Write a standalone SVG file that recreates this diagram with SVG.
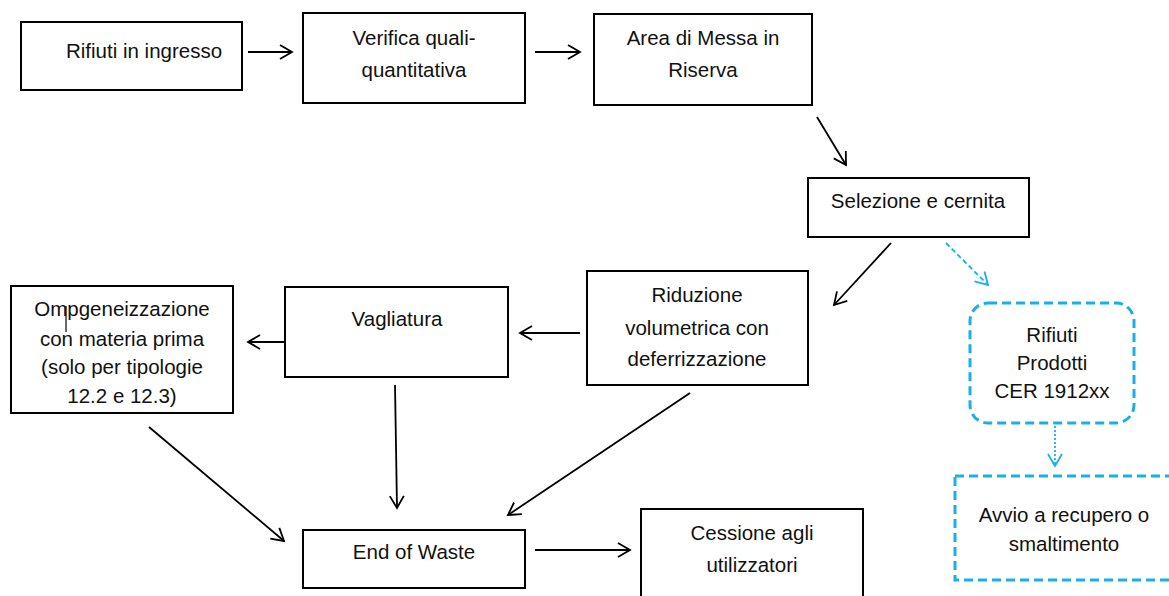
<svg xmlns="http://www.w3.org/2000/svg" width="1169" height="596" viewBox="0 0 1169 596">
<style>
.box{fill:#fff;stroke:#000;stroke-width:2}
.bbox{fill:#fff;stroke:#1AAFE6;stroke-width:3;stroke-dasharray:9,5}
.t{font-family:"Liberation Sans",Arial,sans-serif;font-size:20.5px;fill:#111;text-anchor:middle}
.c{fill:none;stroke:#000;stroke-width:1.8}
.cb{fill:none;stroke:#1AAFE6;stroke-width:1.8}
</style>
<defs>
<marker id="ah" markerUnits="userSpaceOnUse" markerWidth="16" markerHeight="18" refX="13" refY="8" orient="auto" viewBox="0 0 16 16">
<path d="M1,1 L13,8 L1,15" fill="none" stroke="#000" stroke-width="1.8"/>
</marker>
<marker id="ahb" markerUnits="userSpaceOnUse" markerWidth="16" markerHeight="18" refX="13" refY="8" orient="auto" viewBox="0 0 16 16">
<path d="M1,1 L13,8 L1,15" fill="none" stroke="#1AAFE6" stroke-width="1.8"/>
</marker>
</defs>
<rect width="1169" height="596" fill="#fff"/>
<g id="connectors">
<line class="c" x1="248" y1="52" x2="292" y2="52" marker-end="url(#ah)"/>
<line class="c" x1="535" y1="52" x2="580" y2="52" marker-end="url(#ah)"/>
<line class="c" x1="817" y1="117" x2="846" y2="165" marker-end="url(#ah)"/>
<line class="c" x1="891" y1="243" x2="834" y2="305" marker-end="url(#ah)"/>
<line class="cb" x1="946" y1="243" x2="988" y2="285" stroke-dasharray="5,3" marker-end="url(#ahb)"/>
<line class="cb" x1="1055" y1="426" x2="1055" y2="466" stroke-dasharray="2,2" marker-end="url(#ahb)"/>
<line class="c" x1="580" y1="333" x2="520" y2="333" marker-end="url(#ah)"/>
<line class="c" x1="290" y1="342" x2="248" y2="342" marker-end="url(#ah)"/>
<line class="c" x1="149" y1="427" x2="284" y2="541" marker-end="url(#ah)"/>
<line class="c" x1="395" y1="385" x2="397" y2="508" marker-end="url(#ah)"/>
<line class="c" x1="690" y1="393" x2="508" y2="515" marker-end="url(#ah)"/>
<line class="c" x1="535" y1="550" x2="630" y2="550" marker-end="url(#ah)"/>
</g>
<g id="n1"><rect class="box" x="21" y="22" width="221" height="68"/><text class="t" x="66" y="58" style="text-anchor:start">Rifiuti in ingresso</text></g>
<g id="n2"><rect class="box" x="303" y="13" width="222" height="90"/><text class="t" x="414" y="45">Verifica quali-</text><text class="t" x="414" y="77">quantitativa</text></g>
<g id="n3"><rect class="box" x="594" y="14" width="218" height="91"/><text class="t" x="703" y="45">Area di Messa in</text><text class="t" x="703" y="77">Riserva</text></g>
<g id="n4"><rect class="box" x="808" y="178" width="221" height="59"/><text class="t" x="918" y="208">Selezione e cernita</text></g>
<g id="n5"><rect class="bbox" x="970" y="303" width="164" height="120" rx="18"/><text class="t" x="1052" y="342">Rifiuti</text><text class="t" x="1052" y="370">Prodotti</text><text class="t" x="1052" y="398">CER 1912xx</text></g>
<g id="n6"><rect class="bbox" x="955" y="476" width="230" height="104"/><text class="t" x="1064" y="522">Avvio a recupero o</text><text class="t" x="1064" y="551">smaltimento</text></g>
<g id="n7"><rect class="box" x="587" y="271" width="221" height="114"/><text class="t" x="697" y="302">Riduzione</text><text class="t" x="697" y="335">volumetrica con</text><text class="t" x="697" y="366">deferrizzazione</text></g>
<g id="n8"><rect class="box" x="285" y="287" width="223" height="90"/><text class="t" x="397" y="326">Vagliatura</text></g>
<g id="n9"><rect class="box" x="11" y="286" width="222" height="127"/><text class="t" x="122" y="316">Ompgeneizzazione</text><text class="t" x="122" y="346">con materia prima</text><text class="t" x="122" y="374">(solo per tipologie</text><text class="t" x="122" y="403">12.2 e 12.3)</text><line x1="66" y1="306" x2="66" y2="332" stroke="#000" stroke-width="1.2"/></g>
<g id="n10"><rect class="box" x="303" y="530" width="222" height="58"/><text class="t" x="414" y="559">End of Waste</text></g>
<g id="n11"><rect class="box" x="641" y="509" width="222" height="95"/><text class="t" x="752" y="540">Cessione agli</text><text class="t" x="752" y="572">utilizzatori</text></g>
</svg>
